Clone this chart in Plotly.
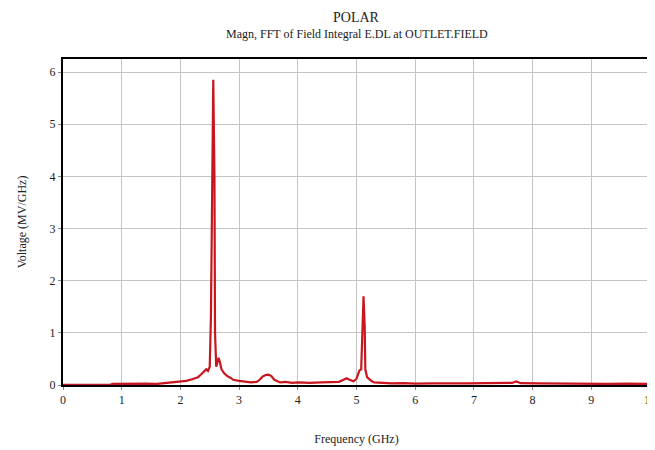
import plotly.graph_objects as go

freq = [0.0, 0.4, 0.8, 0.85, 1.0, 1.2, 1.4, 1.6, 1.8, 1.9, 2.0, 2.1, 2.2, 2.3, 2.35, 2.4, 2.44, 2.47,
        2.5, 2.52, 2.54, 2.56, 2.58, 2.59, 2.61, 2.63, 2.65, 2.67, 2.7, 2.75, 2.8, 2.85, 2.9, 3.0,
        3.1, 3.2, 3.3, 3.35, 3.4, 3.45, 3.5, 3.55, 3.6, 3.65, 3.7, 3.8, 3.9, 4.0, 4.2, 4.4, 4.6,
        4.7, 4.78, 4.83, 4.88, 4.95, 5.0, 5.05, 5.08, 5.1, 5.12, 5.14, 5.15, 5.18, 5.25, 5.3, 5.4,
        5.6, 5.8, 6.0, 6.3, 6.6, 6.9, 7.2, 7.5, 7.65, 7.72, 7.8, 8.1, 8.4, 8.7, 9.0, 9.3, 9.6, 10.0]
mag = [0.005, 0.005, 0.005, 0.02, 0.025, 0.02, 0.025, 0.02, 0.04, 0.05, 0.06, 0.08, 0.11, 0.15, 0.2, 0.25, 0.3, 0.27,
       0.35, 1.3, 3.9, 5.85, 4.0, 1.0, 0.35, 0.45, 0.52, 0.45, 0.3, 0.22, 0.17, 0.14, 0.1, 0.08,
       0.06, 0.05, 0.06, 0.1, 0.16, 0.19, 0.2, 0.17, 0.1, 0.07, 0.05, 0.06, 0.04, 0.05, 0.04, 0.05, 0.05,
       0.06, 0.1, 0.13, 0.1, 0.07, 0.12, 0.28, 0.3, 1.1, 1.7, 1.1, 0.3, 0.15, 0.08, 0.05, 0.04,
       0.03, 0.035, 0.025, 0.03, 0.025, 0.03, 0.035, 0.03, 0.04, 0.07, 0.035, 0.03, 0.025, 0.03, 0.025, 0.02, 0.025, 0.02]

xticks = [0, 1, 2, 3, 4, 5, 6, 7, 8, 9, 10]
yticks = [0, 1, 2, 3, 4, 5, 6]

font = "Liberation Serif, Times New Roman, serif"

fig = go.Figure()
fig.add_trace(go.Scatter(x=freq, y=mag, mode="lines",
                         line=dict(color="#c8161e", width=2.2), showlegend=False))

fig.update_layout(
    width=647, height=442,
    margin=dict(l=55, r=5, t=51, b=65, autoexpand=False),
    paper_bgcolor="white", plot_bgcolor="white",
    font=dict(family=font, size=12, color="#222"),
    xaxis=dict(range=[0, 10], tickvals=xticks, ticktext=[str(v) for v in xticks],
               showgrid=True, gridcolor="#c4c4c4", gridwidth=1, zeroline=False,
               showline=True, linecolor="black", linewidth=2, mirror=True,
               ticks="outside", ticklen=3, tickcolor="#888", ticklabeloverflow="allow",
               tickfont=dict(family=font, size=12),
               title=dict(text="Frequency (GHz)", standoff=28, font=dict(size=12, family=font))),
    yaxis=dict(range=[0, 6.25], tickvals=yticks, ticktext=[str(v) for v in yticks],
               showgrid=True, gridcolor="#c4c4c4", gridwidth=1, zeroline=False,
               showline=True, linecolor="black", linewidth=2, mirror=True,
               ticks="outside", ticklen=3, tickcolor="#888",
               tickfont=dict(family=font, size=12),
               title=dict(text="Voltage (MV/GHz)", standoff=20, font=dict(size=12, family=font))),
)
fig.add_annotation(text="POLAR", xref="paper", yref="paper", x=0.5, y=1.0, yshift=42,
                   showarrow=False, font=dict(size=14, family=font), yanchor="middle")
fig.add_annotation(text="Magn, FFT of Field Integral E.DL at OUTLET.FIELD", xref="paper", yref="paper",
                   x=0.5, y=1.0, yshift=25, showarrow=False, font=dict(size=12, family=font),
                   yanchor="middle")

fig.write_html("out.html")
